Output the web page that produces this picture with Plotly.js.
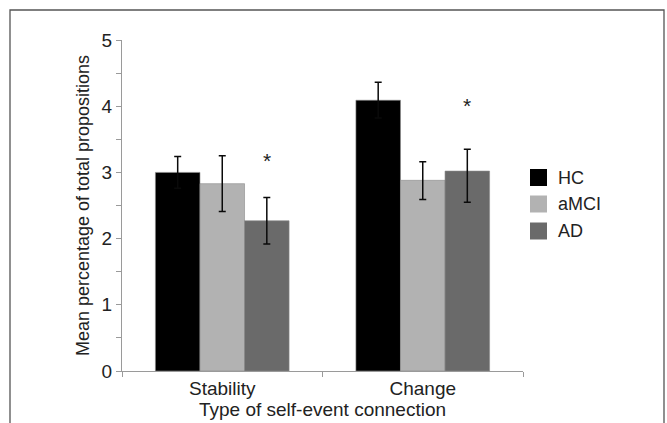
<!DOCTYPE html>
<html>
<head>
<meta charset="utf-8">
<script src="https://cdn.plot.ly/plotly-3.0.1.min.js"></script>
<style>html,body{margin:0;padding:0;background:#fff;}#chart{width:667px;height:423px;}</style>
</head>
<body>
<div id="chart"></div>
<script>
// ---- data ----
const categories = ["Stability", "Change"];
const groups = ["HC", "aMCI", "AD"];
const hcValues = [3.0, 4.09];
const hcErrPlus = [0.24, 0.27];
const hcErrMinus = [0.24, 0.27];
const amciValues = [2.83, 2.88];
const amciErrPlus = [0.42, 0.28];
const amciErrMinus = [0.42, 0.29];
const adValues = [2.27, 3.02];
const adErrPlus = [0.35, 0.33];
const adErrMinus = [0.35, 0.47];
const sigMarks = ["*", "*"];          // significance marks above AD bars
const sigHeights = [3.18, 4.01];      // y value where each mark sits
const yTickVals = [0, 1, 2, 3, 4, 5];

// ---- styles ----
const colors = {HC: "#000000", aMCI: "#b2b2b2", AD: "#6a6a6a"};
const font = "Liberation Sans, Arial, sans-serif";
const txt = "#222222";
const axisColor = "#9a9a9a";

function barTrace(name, vals, plus, minus) {
  return {
    type: "bar", name: name, x: categories, y: vals,
    marker: {color: colors[name], line: {color: "#8a8a8a", width: 0.6}},
    error_y: {type: "data", symmetric: false, array: plus, arrayminus: minus,
              color: "#0a0a0a", thickness: 1.5, width: 3.5},
    showlegend: false
  };
}

const data = [
  barTrace("HC", hcValues, hcErrPlus, hcErrMinus),
  barTrace("aMCI", amciValues, amciErrPlus, amciErrMinus),
  barTrace("AD", adValues, adErrPlus, adErrMinus)
];

// significance annotations over the AD bar (third of three bars in group)
const barOffset = 2 / 9;
const annotations = sigMarks.map((m, i) => ({
  x: i + barOffset, y: sigHeights[i], xref: "x", yref: "y",
  text: m, showarrow: false, font: {family: font, size: 21, color: txt}
}));

// custom legend (paper coordinates)
const plotL = 122, plotR = 523, plotT = 40, plotB = 371;
const pw = plotR - plotL, ph = plotB - plotT;
const px = v => (v - plotL) / pw;
const py = v => (plotB - v) / ph;
const shapes = [];
const legendCenters = [177.5, 204, 231];
groups.forEach((g, i) => {
  const cy = legendCenters[i];
  shapes.push({type: "rect", xref: "paper", yref: "paper",
    x0: px(530), x1: px(547), y0: py(cy + 8.5), y1: py(cy - 8.5),
    fillcolor: colors[g], line: {width: 0}});
  annotations.push({xref: "paper", yref: "paper", x: px(556), y: py(cy),
    xanchor: "left", yanchor: "middle", text: g, showarrow: false,
    font: {family: font, size: 18, color: txt}});
});
// outer frame
shapes.push({type: "rect", xref: "paper", yref: "paper",
  x0: px(10), x1: px(664), y0: py(440), y1: py(10),
  line: {color: "#555555", width: 1.3}, fillcolor: "rgba(0,0,0,0)", layer: "below"});

const layout = {
  width: 667, height: 423,
  margin: {l: plotL, r: 667 - plotR, t: plotT, b: 423 - plotB, pad: 0},
  paper_bgcolor: "#ffffff", plot_bgcolor: "#ffffff",
  barmode: "group", bargap: 1 / 3, bargroupgap: 0,
  font: {family: font, color: txt, size: 17},
  showlegend: false,
  xaxis: {
    type: "category", range: [-0.5, 1.5],
    showline: true, linecolor: axisColor, linewidth: 1.2,
    ticks: "outside", tickson: "boundaries", ticklen: 5, tickcolor: axisColor,
    tickfont: {family: font, size: 19, color: txt},
    showgrid: false, zeroline: false,
    title: {text: "Type of self-event connection", font: {family: font, size: 19, color: txt}, standoff: 4}
  },
  yaxis: {
    range: [0, 5], tickvals: yTickVals,
    showline: true, linecolor: axisColor, linewidth: 1.2,
    ticks: "outside", ticklen: 5, tickcolor: axisColor,
    minor: {dtick: 0.5, ticks: "outside", ticklen: 5, tickcolor: axisColor, showgrid: false},
    tickfont: {family: font, size: 19, color: txt},
    showgrid: false, zeroline: false,
    title: {text: "Mean percentage of total propositions", font: {family: font, size: 18, color: txt}, standoff: 7}
  },
  annotations: annotations,
  shapes: shapes
};

Plotly.newPlot("chart", data, layout, {displayModeBar: false, staticPlot: true});
</script>
</body>
</html>
